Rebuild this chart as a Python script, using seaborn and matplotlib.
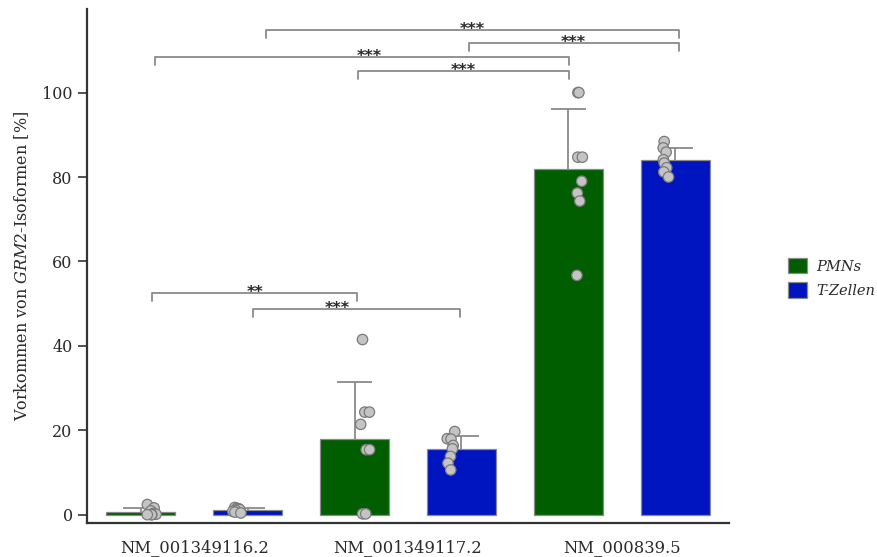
import numpy as np
import pandas as pd
import matplotlib
matplotlib.use("Agg")
import matplotlib.pyplot as plt
from matplotlib.patches import Patch
from matplotlib.font_manager import FontProperties
import seaborn as sns

# Isoform categories and cell types
isoforms = ["NM_001349116.2", "NM_001349117.2", "NM_000839.5"]
cells = ["PMNs", "T-Zellen"]

# Share of each isoform per donor [%]
pmn_116 = [2.4, 1.6, 0.9, 0.3, 0.1, 0.0, 0.0, 0.0]
tcell_116 = [1.7, 1.5, 1.4, 1.2, 1.0, 0.8, 0.6, 0.4]
pmn_117 = [41.5, 24.3, 24.3, 21.4, 15.4, 15.4, 0.2, 0.2]
tcell_117 = [19.7, 18.0, 17.9, 16.4, 15.6, 13.8, 12.2, 10.6]
pmn_839 = [100.0, 100.0, 84.7, 84.7, 79.0, 76.2, 74.3, 56.7]
tcell_839 = [88.4, 86.9, 85.9, 84.1, 83.3, 82.2, 81.2, 80.0]

# Significance brackets: (x start, x end, height, label, label x)
brackets = [
    (0.336, 2.267, 114.9, "***", None),
    (1.283, 2.267, 111.8, "***", None),
    (-0.183, 1.752, 108.4, "***", 0.82),
    (0.767, 1.752, 105.1, "***", None),
    (-0.198, 0.763, 52.6, "**", None),
    (0.275, 1.241, 48.8, "***", 0.67),
]

series = {
    ("NM_001349116.2", "PMNs"): pmn_116,
    ("NM_001349116.2", "T-Zellen"): tcell_116,
    ("NM_001349117.2", "PMNs"): pmn_117,
    ("NM_001349117.2", "T-Zellen"): tcell_117,
    ("NM_000839.5", "PMNs"): pmn_839,
    ("NM_000839.5", "T-Zellen"): tcell_839,
}
rows = [(iso, cell, v) for (iso, cell), vals in series.items() for v in vals]
df = pd.DataFrame(rows, columns=["isoform", "cell", "value"])

sns.set_theme(style="white")
plt.rcParams["font.family"] = ["DejaVu Serif"]
plt.rcParams["mathtext.fontset"] = "custom"
plt.rcParams["mathtext.rm"] = "DejaVu Serif"
plt.rcParams["mathtext.it"] = "DejaVu Serif:italic"

colors = {"PMNs": "#005e00", "T-Zellen": "#0014bf"}
text_col = "#2a2a2a"
line_gray = "#8a8a8a"

fig = plt.figure(figsize=(8.77, 5.57), dpi=100)
ax = fig.add_axes([0.0995, 0.0616, 0.7315, 0.9222])

sns.barplot(data=df, x="isoform", y="value", hue="cell", order=isoforms,
            hue_order=cells, palette=colors, saturation=1, errorbar=None,
            width=1.0, gap=0.35, edgecolor=line_gray, linewidth=0.9,
            legend=False, ax=ax)

# Upper SD whiskers, drawn beneath the bars
stats = df.groupby(["isoform", "cell"])["value"].agg(["mean", "std"]).reset_index()
cap_half = 0.082
for p in list(ax.patches):
    h = p.get_height()
    xc = p.get_x() + p.get_width() / 2
    row = stats.iloc[(stats["mean"] - h).abs().argmin()]
    top = row["mean"] + row["std"]
    ax.vlines(xc, row["mean"], top, color=line_gray, lw=1.3, zorder=0.5)
    ax.hlines(top, xc - cap_half, xc + cap_half, color=line_gray, lw=1.3,
              zorder=0.5)

np.random.seed(7)
sns.stripplot(data=df, x="isoform", y="value", hue="cell", order=isoforms,
              hue_order=cells, dodge=True, jitter=0.045,
              palette=["#c4c4c4", "#c4c4c4"], size=7.5, edgecolor="#7a7a7a",
              linewidth=0.9, legend=False, zorder=3, ax=ax)

for x0, x1, y, label, lx in brackets:
    tick = 1.9
    ax.plot([x0, x0, x1, x1], [y - tick, y, y, y - tick], color=line_gray,
            lw=1.3, clip_on=False, zorder=4)
    xc = (x0 + x1) / 2 if lx is None else lx
    ax.annotate(label, xy=(xc, y), xytext=(0, -2.8), textcoords="offset points",
                ha="center", va="baseline", fontsize=11.5, fontweight="bold",
                color=text_col, family="DejaVu Sans", annotation_clip=False)

ax.set_xlim(-0.5, 2.5)
ax.set_ylim(-1.9, 119.8)
ax.set_yticks([0, 20, 40, 60, 80, 100])
ax.set_xlabel("")
ax.set_ylabel("Vorkommen von $\\mathit{GRM2}$-Isoformen [%]", fontsize=11.5,
              color=text_col, labelpad=8)
ax.tick_params(axis="y", length=6.5, width=1.2, color="#333333", pad=4,
               labelsize=11.5, labelcolor=text_col, left=True)
ax.tick_params(axis="x", length=0, pad=12, labelsize=11.8, labelcolor=text_col)

for side in ["top", "right"]:
    ax.spines[side].set_visible(False)
for side in ["left", "bottom"]:
    ax.spines[side].set_color("#333333")
    ax.spines[side].set_linewidth(1.6)

handles = [Patch(facecolor=colors[c], edgecolor=line_gray, linewidth=0.9)
           for c in cells]
fig.legend(handles, cells, loc="center left", bbox_to_anchor=(0.899, 0.501),
           bbox_transform=fig.transFigure, frameon=False,
           prop=FontProperties(family="DejaVu Serif", style="italic", size=10.5),
           handlelength=1.25, handleheight=1.25, handletextpad=0.65,
           labelspacing=0.6, borderpad=0, borderaxespad=0,
           labelcolor=text_col)

fig.savefig("out.png", dpi=100)
